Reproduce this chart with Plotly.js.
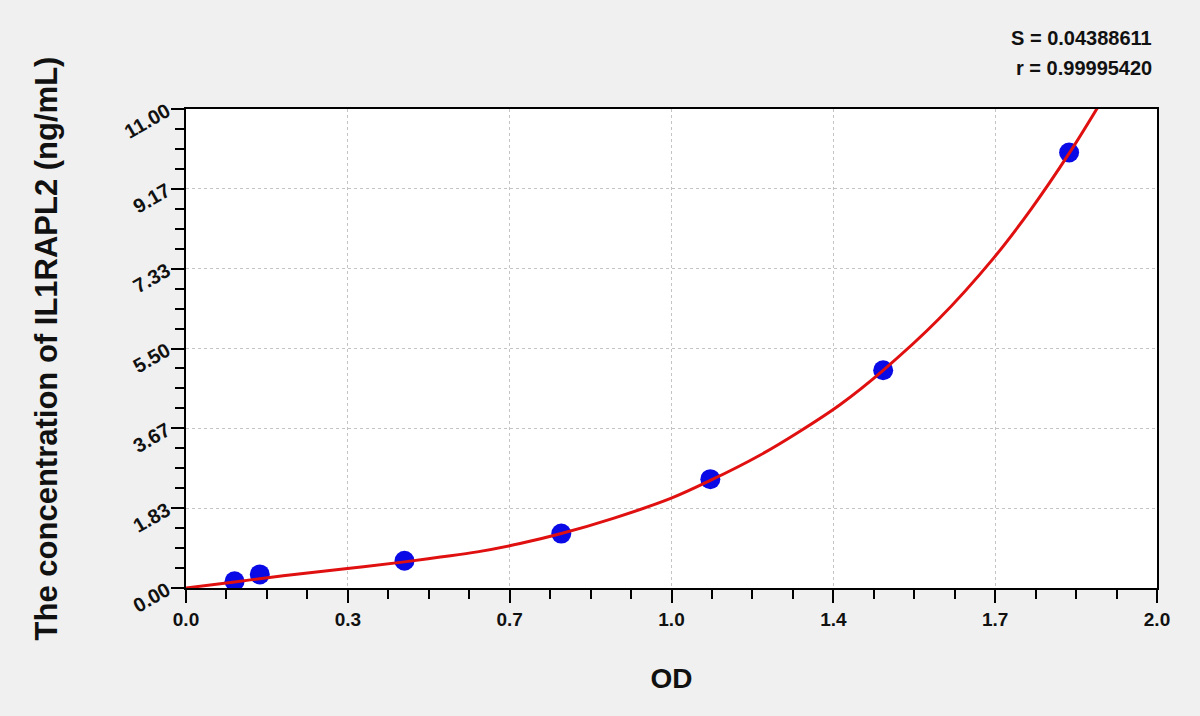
<!DOCTYPE html>
<html>
<head>
<meta charset="utf-8">
<script src="https://cdn.plot.ly/plotly-3.0.1.min.js"></script>
<style>
  html, body { margin: 0; padding: 0; background: #f0f0f0; }
  #chart { width: 1200px; height: 716px; }
</style>
</head>
<body>
<div id="chart"></div>
<script>
// Standards: OD vs concentration (ng/mL)
var odValues = [0.100, 0.152, 0.450, 0.773, 1.080, 1.436, 1.819];
var concValues = [0.156, 0.312, 0.625, 1.25, 2.5, 5, 10];

// Fitted curve
var curveOd = [0, 0.100, 0.200, 0.328, 0.450, 0.524, 0.600, 0.688, 0.773, 0.880, 0.997, 1.080, 1.182, 1.263, 1.347, 1.436, 1.550, 1.663, 1.740, 1.819, 1.884];
var curveConc = [0, 0.14, 0.28, 0.44, 0.60, 0.71, 0.83, 1.02, 1.25, 1.60, 2.05, 2.47, 3.05, 3.59, 4.21, 5.00, 6.17, 7.57, 8.69, 9.98, 11.15];

// Axis ticks
var xTickVals = [0, 1 / 3, 2 / 3, 1, 4 / 3, 5 / 3, 2];
var xTickText = ['0.0', '0.3', '0.7', '1.0', '1.4', '1.7', '2.0'];
var yTickVals = [0, 11 / 6, 22 / 6, 33 / 6, 44 / 6, 55 / 6, 11];
var yTickText = ['0.00', '1.83', '3.67', '5.50', '7.33', '9.17', '11.00'];

var fontFam = 'Liberation Sans, Arial, sans-serif';

var points = {
    x: odValues,
    y: concValues,
    type: 'scatter',
    mode: 'markers',
    marker: { color: '#0a0ae6', size: 20 },
    showlegend: false,
    hoverinfo: 'x+y'
};

var curve = {
    x: curveOd,
    y: curveConc,
    type: 'scatter',
    mode: 'lines',
    line: { color: '#e01010', width: 3, shape: 'spline', smoothing: 1 },
    showlegend: false,
    hoverinfo: 'skip'
};

var layout = {
    width: 1200,
    height: 716,
    paper_bgcolor: '#f0f0f0',
    plot_bgcolor: '#ffffff',
    margin: { l: 186, r: 43, t: 109, b: 128 },
    font: { family: fontFam, color: '#111' },
    xaxis: {
        range: [0, 2],
        tickmode: 'array',
        tickvals: xTickVals,
        ticktext: xTickText,
        ticks: 'outside',
        ticklen: 13,
        tickwidth: 2,
        tickcolor: '#000',
        tickfont: { size: 19, weight: 'bold', color: '#111' },
        showline: true,
        linecolor: '#000',
        linewidth: 2,
        mirror: true,
        showgrid: true,
        gridcolor: '#c4c4c4',
        griddash: 'dot',
        gridwidth: 1,
        zeroline: false,
        minor: { tickmode: 'linear', tick0: 0, dtick: 2 / 24, ticks: 'outside', ticklen: 9, tickwidth: 2, tickcolor: '#000', showgrid: false },
        title: { text: 'OD', font: { size: 28, weight: 'bold', color: '#111' }, standoff: 40 }
    },
    yaxis: {
        range: [0, 11],
        tickmode: 'array',
        tickvals: yTickVals,
        ticktext: yTickText,
        tickangle: -30,
        ticks: 'outside',
        ticklen: 13,
        tickwidth: 2,
        tickcolor: '#000',
        tickfont: { size: 20, weight: 'bold', color: '#111' },
        showline: true,
        linecolor: '#000',
        linewidth: 2,
        mirror: true,
        showgrid: true,
        gridcolor: '#c4c4c4',
        griddash: 'dot',
        gridwidth: 1,
        zeroline: false,
        minor: { tickmode: 'linear', tick0: 0, dtick: 11 / 24, ticks: 'outside', ticklen: 9, tickwidth: 2, tickcolor: '#000', showgrid: false },
        title: { text: 'The concentration of IL1RAPL2 (ng/mL)', font: { size: 31, weight: 'bold', color: '#111' }, standoff: 54 }
    },
    annotations: [
        {
            xref: 'paper', yref: 'paper', x: 0.997, y: 1.148,
            xanchor: 'right', yanchor: 'middle', showarrow: false,
            text: 'S = 0.04388611', font: { size: 20, weight: 'bold', color: '#111' }
        },
        {
            xref: 'paper', yref: 'paper', x: 0.997, y: 1.0856,
            xanchor: 'right', yanchor: 'middle', showarrow: false,
            text: 'r = 0.99995420', font: { size: 20, weight: 'bold', color: '#111' }
        }
    ]
};

Plotly.newPlot('chart', [points, curve], layout, { displayModeBar: false, staticPlot: true });
</script>
</body>
</html>
